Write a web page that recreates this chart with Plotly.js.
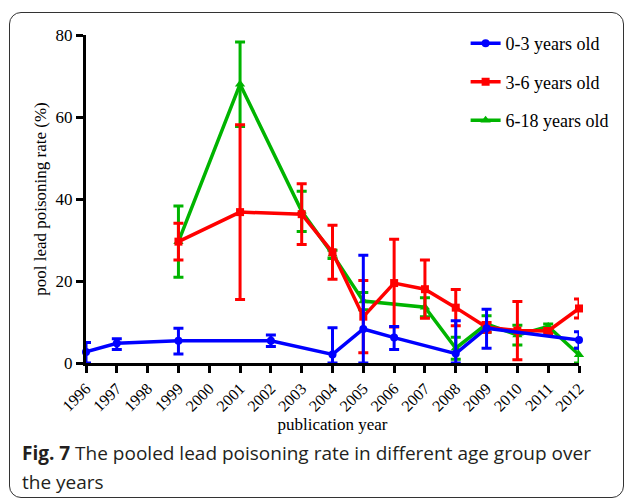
<!DOCTYPE html>
<html>
<head>
<meta charset="utf-8">
<script src="https://cdn.plot.ly/plotly-3.0.1.min.js"></script>
<style>
  html, body { margin:0; padding:0; background:#fff; }
  #wrap { position:relative; width:629px; height:500px; overflow:hidden; }
  #frame { position:absolute; left:9px; top:12px; width:613px; height:484px; border:1.5px solid #333; border-radius:12px; }
  #chart { position:absolute; left:0; top:0; width:629px; height:500px; }
</style>
</head>
<body>
<div id="wrap"><div id="frame"></div><div id="chart"></div></div>
<script>
// ---- data ----
const yearTicks = [1996,1997,1998,1999,2000,2001,2002,2003,2004,2005,2006,2007,2008,2009,2010,2011,2012];

const blueYears = [1996,1997,1999,2002,2004,2005,2006,2008,2009,2012];
const blueRate  = [2.7, 4.8, 5.4, 5.4, 2.1, 8.3, 6.2, 2.3, 8.5, 5.6];
const blueErrPlus  = [2.3, 1.1, 3.1, 1.4, 6.5, 18.0, 2.7, 8.0, 4.6, 2.0];
const blueErrMinus = [2.7, 1.5, 3.2, 1.4, 2.1, 8.3, 2.9, 2.3, 4.9, 2.0];

const redYears = [1999,2001,2003,2004,2005,2006,2007,2008,2009,2010,2011,2012];
const redRate  = [29.6,36.8,36.3,27.0,11.3,19.5,18.0,13.5,8.7,7.9,7.8,13.3];
const redErr   = [4.5, 21.3,7.4, 6.6, 8.8, 10.7,7.1, 4.4, 1.2,7.1,0.6,2.3];

const greenYears = [1999,2001,2003,2004,2005,2007,2008,2009,2010,2011,2012];
const greenRate  = [29.6,68.0,37.0,26.5,15.1,13.6,3.6,9.5,6.8,8.9,2.0];
const greenErrPlus  = [8.7,10.3,4.9,1.0,2.1,2.3,2.7,2.0,2.4,0.6,1.6];
const greenErrMinus = [8.7,10.3,4.9,1.0,2.1,2.3,2.7,2.0,2.4,0.6,2.0];

const seriesNames = ['0-3 years old','3-6 years old','6-18 years old'];

// ---- chart ----
const serif = 'Liberation Serif';
const sans = 'Open Sans';
function tr(x, y, ep, em, name, color, symbol, size, rank) {
  return {
    x: x, y: y, name: name, type: 'scatter', mode: 'lines+markers',
    line: {color: color, width: 3.5},
    marker: {color: color, symbol: symbol, size: size},
    error_y: {type: 'data', symmetric: false, array: ep, arrayminus: em,
              color: color, thickness: 3, width: 5},
    cliponaxis: false, legendrank: rank, legendgroup: name
  };
}
const data = [
  tr(greenYears, greenRate, greenErrPlus, greenErrMinus, seriesNames[2], '#00b400', 'triangle-up', 9, 3),
  tr(redYears, redRate, redErr, redErr, seriesNames[1], '#ff0000', 'square', 8, 2),
  tr(blueYears, blueRate, blueErrPlus, blueErrMinus, seriesNames[0], '#0000ff', 'circle', 8, 1)
];

const layout = {
  width: 629, height: 500,
  paper_bgcolor: 'rgba(0,0,0,0)', plot_bgcolor: 'rgba(0,0,0,0)',
  margin: {l: 86, r: 50, t: 35, b: 137},
  font: {family: serif, color: '#000', size: 16},
  showlegend: true,
  legend: {x: 0.77, y: 1.03, xanchor: 'left', yanchor: 'top',
           font: {family: serif, size: 18, color: '#000'},
           bgcolor: 'rgba(0,0,0,0)', tracegroupgap: 12, traceorder: 'grouped'},
  xaxis: {
    range: [1996, 2012], tickmode: 'array', tickvals: yearTicks,
    ticktext: yearTicks.map(String), tickangle: -45,
    tickfont: {family: serif, size: 16, color: '#000'},
    showline: true, linecolor: '#000', linewidth: 3,
    ticks: 'outside', ticklen: 7, tickwidth: 3, tickcolor: '#000',
    showgrid: false, zeroline: false,
    title: {text: 'publication year', font: {family: serif, size: 17, color: '#000'}, standoff: 2}
  },
  yaxis: {
    range: [0, 80], tickmode: 'linear', tick0: 0, dtick: 20,
    tickfont: {family: serif, size: 17, color: '#000'},
    showline: true, linecolor: '#000', linewidth: 3,
    ticks: 'outside', ticklen: 7, tickwidth: 3, tickcolor: '#000',
    showgrid: false, zeroline: false,
    title: {text: 'pool lead poisoning rate (%)', font: {family: serif, size: 17, color: '#000'}, standoff: 5}
  },
  annotations: [
    {xref: 'paper', yref: 'paper', x: (20-86)/493, y: (363-453)/328, xanchor: 'left', yanchor: 'middle',
     showarrow: false, align: 'left',
     text: '<b>Fig. 7</b> The pooled lead poisoning rate in different age group over',
     font: {family: sans, size: 19, color: '#231f20'}},
    {xref: 'paper', yref: 'paper', x: (20-86)/493, y: (363-482)/328, xanchor: 'left', yanchor: 'middle',
     showarrow: false, align: 'left',
     text: 'the years',
     font: {family: sans, size: 19, color: '#231f20'}}
  ]
};

Plotly.newPlot('chart', data, layout, {displayModeBar: false, staticPlot: true});
</script>
</body>
</html>
